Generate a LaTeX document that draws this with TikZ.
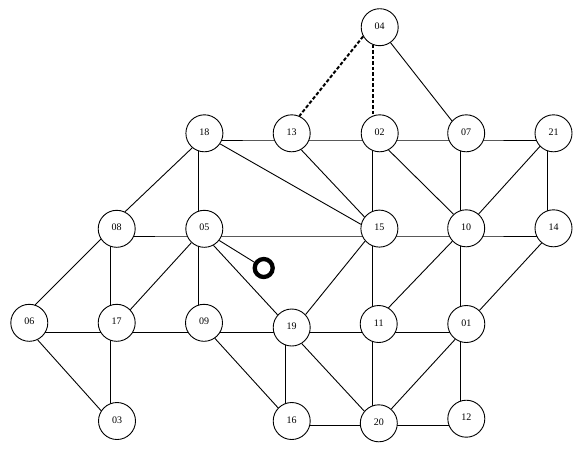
\documentclass[tikz,border=0pt]{standalone}
\usepackage{fontspec}
\setmainfont{Liberation Serif}
\usetikzlibrary{backgrounds}
\begin{document}
\begin{tikzpicture}[x=1pt,y=-1pt,
  vtx/.style={circle,draw,fill=white,line width=0.9pt,minimum size=37pt,inner sep=0pt,font=\fontsize{10}{11}\selectfont},
  edge/.style={line width=0.9pt},
  dashedge/.style={line width=2pt,dash pattern=on 3.5pt off 2pt},
  ringstyle/.style={circle,draw,fill=white,line width=4.3pt,minimum size=18pt,inner sep=0pt}]
\useasboundingbox (0,0) rectangle (585,448);
% circles
\node[vtx] (n04) at (379.7,27.2) {\raisebox{2.5pt}{04}};
\node[vtx] (n18) at (204.4,133.3) {\raisebox{2.5pt}{18}};
\node[vtx] (n13) at (291.7,133.3) {\raisebox{2.5pt}{13}};
\node[vtx] (n02) at (379.7,133.3) {\raisebox{2.5pt}{02}};
\node[vtx] (n07) at (466.2,133.3) {\raisebox{2.5pt}{07}};
\node[vtx] (n21) at (553.5,133.3) {\raisebox{2.5pt}{21}};
\node[vtx] (n08) at (116.7,228.8) {\raisebox{2.5pt}{08}};
\node[vtx] (n05) at (204.3,228.8) {\raisebox{2.5pt}{05}};
\node[vtx] (n15) at (379.4,228.6) {\raisebox{2.5pt}{15}};
\node[vtx] (n10) at (466.2,228.3) {\raisebox{2.5pt}{10}};
\node[vtx] (n14) at (553.5,228.3) {\raisebox{2.5pt}{14}};
\node[vtx] (n06) at (29.3,322.8) {\raisebox{2.5pt}{06}};
\node[vtx] (n17) at (116.7,322.8) {\raisebox{2.5pt}{17}};
\node[vtx] (n09) at (204.0,322.8) {\raisebox{2.5pt}{09}};
\node[vtx] (n19) at (291.7,327.5) {\raisebox{2.5pt}{19}};
\node[vtx] (n11) at (378.7,324.0) {\raisebox{2.5pt}{11}};
\node[vtx] (n01) at (466.3,324.0) {\raisebox{2.5pt}{01}};
\node[vtx] (n03) at (117.0,421.0) {\raisebox{2.5pt}{03}};
\node[vtx] (n16) at (291.7,421.0) {\raisebox{2.5pt}{16}};
\node[vtx] (n20) at (378.8,423.3) {\raisebox{2.5pt}{20}};
\node[vtx] (n12) at (466.3,418.7) {\raisebox{2.5pt}{12}};
\node[ringstyle] (ring) at (263.7,268) {};
% grid attachment points
\coordinate (g18) at (198.5,140);
\coordinate (g13) at (285.7,140);
\coordinate (g02) at (372.6,140);
\coordinate (g07) at (460.3,140);
\coordinate (g21) at (547.7,140);
\coordinate (g08) at (110.3,236);
\coordinate (g05) at (198.5,236);
\coordinate (g15) at (372.6,236);
\coordinate (g10) at (460.3,236);
\coordinate (g14) at (547.7,236);
\coordinate (g06) at (23,332);
\coordinate (g17) at (110.3,332);
\coordinate (g09) at (198.5,332);
\coordinate (g19) at (285.7,332);
\coordinate (g11) at (372.6,332);
\coordinate (g01) at (460.3,332);
\coordinate (g03) at (110.3,425.7);
\coordinate (g16) at (285.7,425.7);
\coordinate (g20) at (372.6,425.7);
\coordinate (g12) at (460.3,425.7);
\begin{scope}[on background layer]
\fill[white] (0,0) rectangle (585,448);
% horizontal
\draw[edge] (g18) -- (g13) -- (g02) -- (g07) -- (g21);
\draw[edge] (g08) -- (g05) -- (g15) -- (g10) -- (g14);
\draw[edge] (g06) -- (g17) -- (g09) -- (g19) -- (g11) -- (g01);
\draw[edge] (g16) -- (g20) -- (g12);
% vertical
\draw[edge] (g18) -- (g05) -- (g09);
\draw[edge] (g08) -- (g17) -- (g03);
\draw[edge] (g02) -- (g15) -- (g11) -- (g20);
\draw[edge] (g07) -- (g10) -- (g01) -- (g12);
\draw[edge] (g21) -- (g14);
\draw[edge] (g19) -- (g16);
% dashed
\draw[dashedge] (n04.209) -- (n13.66);
\draw[dashedge] (n04.248) -- (n02.112);
% diagonals
\draw[edge] (n04.305) -- (n07.139);
\draw[edge] (n18.230) -- (n08.64);
\draw[edge] (n18.326) -- (n15.167);
\draw[edge] (n13.300) -- (n15.142);
\draw[edge] (n02.298) -- (n10.132);
\draw[edge] (n21.224) -- (n10.49);
\draw[edge] (n14.231) -- (n01.46);
\draw[edge] (n08.213) -- (n06.72);
\draw[edge] (n05.227) -- (n17.44);
\draw[edge] (n05.299) -- (n19.138);
\draw[edge] (n05.322) -- (ring.center);
\draw[edge] (n15.221) -- (n19.43);
\draw[edge] (n10.223) -- (n11.59);
\draw[edge] (n06.296) -- (n03.147);
\draw[edge] (n09.305) -- (n16.136);
\draw[edge] (n19.302) -- (n20.140);
\draw[edge] (n01.234) -- (n20.49);
\end{scope}
\end{tikzpicture}
\end{document}
